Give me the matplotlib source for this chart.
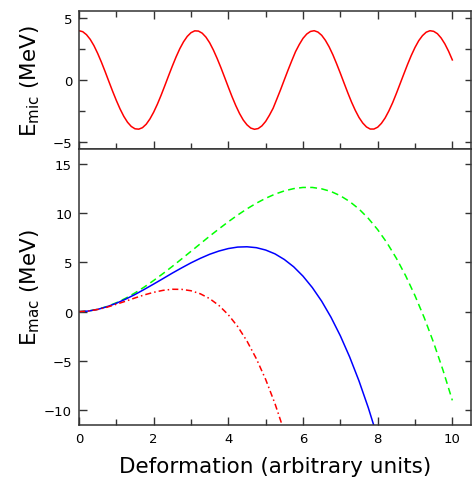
import matplotlib
matplotlib.use("Agg")
import matplotlib.pyplot as plt

# microscopic (shell) energy
x_mic = [0.0, 0.1, 0.2, 0.3, 0.4, 0.5, 0.6, 0.7, 0.8, 0.9,
         1.0, 1.1, 1.2, 1.3, 1.4, 1.5, 1.6, 1.7, 1.8, 1.9,
         2.0, 2.1, 2.2, 2.3, 2.4, 2.5, 2.6, 2.7, 2.8, 2.9,
         3.0, 3.1, 3.2, 3.3, 3.4, 3.5, 3.6, 3.7, 3.8, 3.9,
         4.0, 4.1, 4.2, 4.3, 4.4, 4.5, 4.6, 4.7, 4.8, 4.9,
         5.0, 5.1, 5.2, 5.3, 5.4, 5.5, 5.6, 5.7, 5.8, 5.9,
         6.0, 6.1, 6.2, 6.3, 6.4, 6.5, 6.6, 6.7, 6.8, 6.9,
         7.0, 7.1, 7.2, 7.3, 7.4, 7.5, 7.6, 7.7, 7.8, 7.9,
         8.0, 8.1, 8.2, 8.3, 8.4, 8.5, 8.6, 8.7, 8.8, 8.9,
         9.0, 9.1, 9.2, 9.3, 9.4, 9.5, 9.6, 9.7, 9.8, 9.9, 10.0]
e_mic = [4.00, 3.92, 3.68, 3.30, 2.79, 2.16, 1.45, 0.68, -0.12, -0.91,
         -1.66, -2.35, -2.95, -3.43, -3.77, -3.96, -3.99, -3.87, -3.59, -3.16,
         -2.61, -1.96, -1.23, -0.45, 0.35, 1.13, 1.87, 2.54, 3.10, 3.54,
         3.84, 3.99, 3.97, 3.80, 3.48, 3.02, 2.43, 1.75, 1.01, 0.22,
         -0.58, -1.36, -2.08, -2.72, -3.25, -3.64, -3.90, -4.00, -3.94, -3.72,
         -3.36, -2.86, -2.29, -1.54, -0.78, 0.02, 0.81, 1.57, 2.30, 2.88,
         3.38, 3.73, 3.94, 4.00, 3.89, 3.63, 3.22, 2.69, 2.05, 1.32,
         0.55, -0.25, -1.04, -1.79, -2.46, -3.04, -3.49, -3.81, -3.98, -3.98,
         -3.83, -3.52, -3.08, -2.51, -1.85, -1.10, -0.31, 0.48, 1.26, 1.99,
         2.64, 3.19, 3.60, 3.88, 4.00, 3.95, 3.76, 3.41, 2.93, 2.33, 1.63]

# macroscopic (liquid drop) energy, three curves from the bottom panel
x_mac = [0.0, 0.25, 0.5, 0.75, 1.0, 1.25, 1.5, 1.75, 2.0, 2.25,
         2.5, 2.75, 3.0, 3.25, 3.5, 3.75, 4.0, 4.25, 4.5, 4.75,
         5.0, 5.25, 5.5, 5.75, 6.0, 6.25, 6.5, 6.75, 7.0, 7.25,
         7.5, 7.75, 8.0, 8.25, 8.5, 8.75, 9.0, 9.25, 9.5, 9.75, 10.0]
e_green = [0.00, 0.06, 0.24, 0.52, 0.90, 1.36, 1.90, 2.50, 3.16, 3.86,
           4.59, 5.35, 6.12, 6.89, 7.66, 8.40, 9.12, 9.80, 10.43, 11.00,
           11.50, 11.92, 12.25, 12.48, 12.60, 12.60, 12.46, 12.19, 11.76, 11.17,
           10.41, 9.46, 8.32, 6.98, 5.42, 3.64, 1.62, -0.64, -3.16, -5.94, -9.00]
e_blue = [0.00, 0.06, 0.23, 0.50, 0.85, 1.27, 1.74, 2.26, 2.80, 3.35,
          3.91, 4.44, 4.95, 5.41, 5.82, 6.15, 6.40, 6.55, 6.58, 6.49,
          6.25, 5.86, 5.29, 4.55, 3.60, 2.44, 1.06, -0.57, -2.45, -4.60,
          -7.03, -9.76, -12.80]
e_red = [0.00, 0.06, 0.22, 0.45, 0.75, 1.06, 1.39, 1.70, 1.96, 2.16,
         2.27, 2.26, 2.12, 1.81, 1.32, 0.62, -0.32, -1.51, -2.99, -4.77,
         -6.88, -9.34, -12.18]

spine_col = "#333333"

fig = plt.figure(figsize=(4.72, 4.85), dpi=100)
ax1 = fig.add_axes([79 / 472, 1 - 150 / 485, 392 / 472, 138 / 485])
ax2 = fig.add_axes([79 / 472, 1 - 426 / 485, 392 / 472, 276 / 485])

ax1.plot(x_mic, e_mic, color="red", lw=1.1)
ax2.plot(x_mac, e_green, color="#00ff00", lw=1.1, dashes=(4.5, 2.8))
ax2.plot(x_mac[:len(e_blue)], e_blue, color="blue", lw=1.1)
ax2.plot(x_mac[:len(e_red)], e_red, color="red", lw=1.1, dashes=(4, 2, 1, 2))

for ax in (ax1, ax2):
    ax.set_xlim(0, 10.5)
    for s in ax.spines.values():
        s.set_color(spine_col)
        s.set_linewidth(1.1)
    ax.set_xticks([0, 2, 4, 6, 8, 10])
    ax.set_xticks([1, 3, 5, 7, 9], minor=True)
    ax.tick_params(which="both", direction="in", color=spine_col, width=1.0,
                   labelsize=9.5, pad=5)
    ax.tick_params(which="major", length=6)
    ax.tick_params(which="minor", length=4)

ax1.set_ylim(-5.6, 5.6)
ax1.set_yticks([-5, 0, 5])
ax1.set_yticks([-2.5, 2.5], minor=True)
ax1.tick_params(which="both", top=True, bottom=True, left=True, right=True,
                labelbottom=False)
ax1.set_ylabel(r"E$_{\rm mic}$ (MeV)", fontsize=15.5)
ax1.yaxis.set_label_coords(-0.095, 0.5)

ax2.set_ylim(-11.5, 16.5)
ax2.set_yticks([-10, -5, 0, 5, 10, 15])
ax2.tick_params(which="both", top=False, bottom=True, left=True, right=True)
ax2.set_ylabel(r"E$_{\rm mac}$ (MeV)", fontsize=15.5)
ax2.yaxis.set_label_coords(-0.095, 0.5)
ax2.set_xlabel("Deformation (arbitrary units)", fontsize=15.5, labelpad=8)

# right-hand ticks are shorter than the left ones
for ax in (ax1, ax2):
    for t in ax.yaxis.get_major_ticks() + ax.yaxis.get_minor_ticks():
        t.tick2line.set_markersize(4)

fig.savefig("out.png", dpi=100)
